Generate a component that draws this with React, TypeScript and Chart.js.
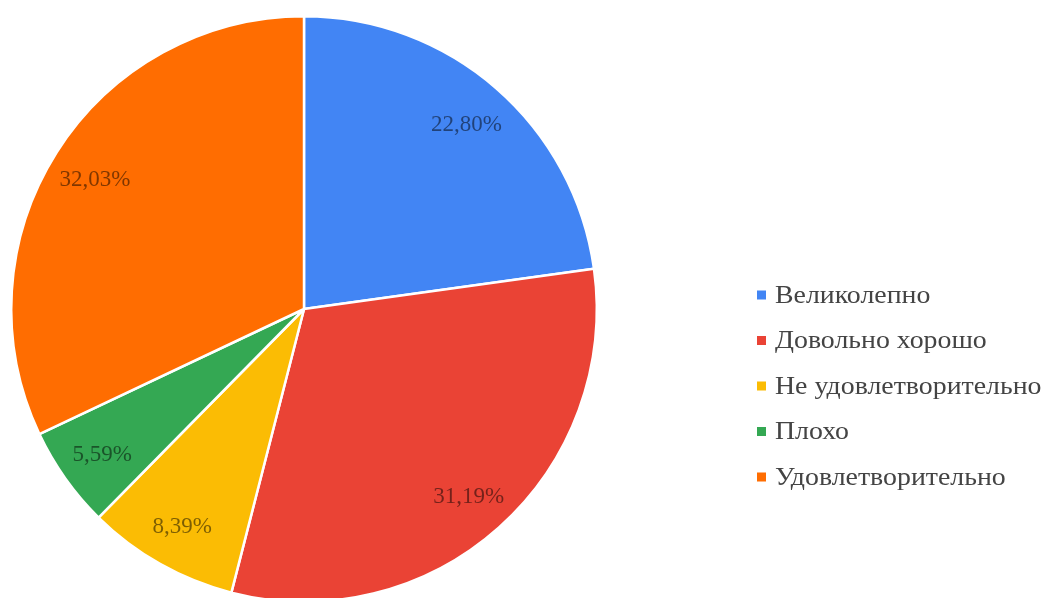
import React, { useEffect, useRef } from "react";
import { Chart, registerables } from "chart.js";

Chart.register(...registerables);

const categories = ["Великолепно", "Довольно хорошо", "Не удовлетворительно", "Плохо", "Удовлетворительно"];
const values = [22.80, 31.19, 8.39, 5.59, 32.03];
const valueLabels = ["22,80%", "31,19%", "8,39%", "5,59%", "32,03%"];
const colors = ["#4285F4", "#EA4335", "#FBBC04", "#34A853", "#FF6D01"];

const LABEL_FONT = "23px 'Liberation Serif', 'Times New Roman', serif";
const LEGEND_FONT = "24px 'Liberation Serif', 'Times New Roman', serif";

const overlayPlugin = {
  id: "overlay",
  afterDatasetsDraw(chart: any) {
    const ctx = chart.ctx;
    const meta = chart.getDatasetMeta(0);
    ctx.save();
    ctx.font = LABEL_FONT;
    ctx.fillStyle = "rgba(0,0,0,0.5)";
    ctx.textAlign = "center";
    ctx.textBaseline = "middle";
    meta.data.forEach((arc: any, i: number) => {
      const p = arc.getProps(["x", "y", "startAngle", "endAngle", "outerRadius"], true);
      const mid = (p.startAngle + p.endAngle) / 2;
      const r = p.outerRadius * 0.845;
      ctx.fillText(valueLabels[i], p.x + Math.cos(mid) * r, p.y + Math.sin(mid) * r + 3);
    });
    // legend
    const lx = 757;
    const y0 = 295;
    const gap = 45.5;
    ctx.font = LEGEND_FONT;
    ctx.textAlign = "left";
    categories.forEach((c, i) => {
      const y = y0 + i * gap;
      ctx.fillStyle = colors[i];
      ctx.fillRect(lx, y - 4.5, 9, 9);
      ctx.fillStyle = "#444444";
      ctx.save();
      ctx.translate(lx + 18, y + 1);
      ctx.scale(1.16, 1.05);
      ctx.fillText(c, 0, 0);
      ctx.restore();
    });
    ctx.restore();
  },
};

export default function App() {
  const ref = useRef<HTMLCanvasElement>(null);
  useEffect(() => {
    if (!ref.current) return;
    const chart = new Chart(ref.current, {
      type: "pie",
      data: {
        labels: categories,
        datasets: [
          {
            data: values,
            backgroundColor: colors,
            borderColor: "#ffffff",
            borderWidth: 2.5,
          },
        ],
      },
      options: {
        animation: false,
        responsive: false,
        devicePixelRatio: 1,
        layout: { padding: { left: 10, top: 15, right: 447, bottom: 17 } },
        plugins: {
          legend: { display: false },
          tooltip: { enabled: false },
        },
      },
      plugins: [overlayPlugin],
    });
    return () => chart.destroy();
  }, []);
  return (
    <div style={{ position: "fixed", left: 0, top: 0, width: 1045, height: 598, overflow: "hidden", background: "#fff" }}>
      <canvas ref={ref} width={1045} height={620} style={{ display: "block" }} />
    </div>
  );
}
